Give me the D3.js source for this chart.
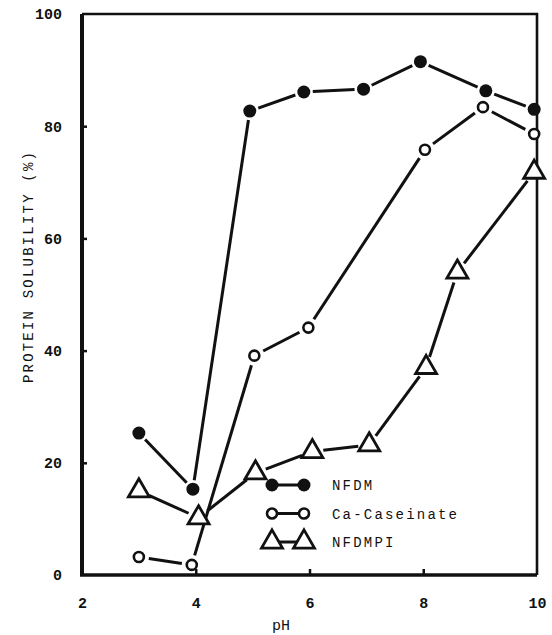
<!DOCTYPE html>
<html>
<head>
<meta charset="utf-8">
<script src="https://cdn.jsdelivr.net/npm/d3@7"></script>
<style>
  body { margin: 0; background: #fff; }
  svg { display: block; }
  .tick text { font-family: "Liberation Mono", monospace; font-weight: bold; font-size: 15px; fill: #111; }
  .lbl { font-family: "Liberation Mono", monospace; fill: #111; }
</style>
</head>
<body>
<svg id="chart" width="552" height="635"></svg>
<script>
// data
const nfdmPH   = [3.0, 3.95, 4.95, 5.9, 6.95, 7.95, 9.1, 9.95];
const nfdmVal  = [25.3, 15.3, 82.7, 86.1, 86.6, 91.5, 86.3, 83.0];
const casPH    = [3.0, 3.93, 5.03, 5.98, 8.03, 9.05, 9.95];
const casVal   = [3.2, 1.8, 39.1, 44.1, 75.8, 83.4, 78.6];
const piPH     = [3.0, 4.05, 5.05, 6.05, 7.05, 8.05, 8.6, 9.95];
const piVal    = [15.0, 10.2, 18.2, 22.0, 23.2, 37.0, 54.0, 71.8];
const xTicks   = [2, 4, 6, 8, 10];
const yTicks   = [0, 20, 40, 60, 80, 100];
const legendNames = ["NFDM", "Ca-Caseinate", "NFDMPI"];

const svg = d3.select("#chart");
const margin = {left: 82, right: 15, top: 14, bottom: 60};
const width = 552, height = 635;

const x = d3.scaleLinear().domain([2, 10]).range([margin.left, width - margin.right]);
const y = d3.scaleLinear().domain([0, 100]).range([height - margin.bottom - 0, margin.top]);

const ink = "#111";

// frame
svg.append("path")
   .attr("d", `M${x(2)},${y(0)}V${y(100)}`)
   .attr("stroke", ink).attr("stroke-width", 4).attr("fill", "none");
svg.append("path")
   .attr("d", `M${x(2)},${y(100)}H${x(10)}V${y(0)}`)
   .attr("stroke", ink).attr("stroke-width", 2.6).attr("fill", "none");
svg.append("path")
   .attr("d", `M${x(2) - 2},${y(0)}H${x(10)}`)
   .attr("stroke", ink).attr("stroke-width", 3.5).attr("fill", "none");

// axes
const yAxis = svg.append("g")
   .attr("transform", `translate(${x(2)},0)`)
   .call(d3.axisLeft(y).tickValues(yTicks).tickSize(-5).tickPadding(20));
yAxis.select(".domain").remove();
yAxis.selectAll(".tick line").attr("stroke", ink).attr("stroke-width", 2.5)
     .filter(d => d === 0 || d === 100).remove();

const xAxis = svg.append("g")
   .attr("transform", `translate(0,${y(0)})`)
   .call(d3.axisBottom(x).tickValues(xTicks).tickSize(-6).tickPadding(22));
xAxis.select(".domain").remove();
xAxis.selectAll(".tick line").attr("stroke", ink).attr("stroke-width", 2.5)
     .filter(d => d === 2 || d === 10).remove();

// axis titles
svg.append("text").attr("class", "lbl")
   .attr("x", x(5.5)).attr("y", 630)
   .attr("text-anchor", "middle").attr("font-size", 15)
   .text("pH");

svg.append("text").attr("class", "lbl")
   .attr("transform", `translate(33,${y(55)}) rotate(-90)`)
   .attr("text-anchor", "middle").attr("font-size", 14)
   .attr("letter-spacing", 2.2)
   .text("PROTEIN SOLUBILITY (%)");

// lines broken short of the markers
function brokenLine(pts, gap) {
  const g = svg.append("g");
  for (let i = 0; i < pts.length - 1; i++) {
    const [x1, y1] = pts[i], [x2, y2] = pts[i + 1];
    const len = Math.hypot(x2 - x1, y2 - y1);
    if (len < gap * 2) continue;
    const ux = (x2 - x1) / len, uy = (y2 - y1) / len;
    g.append("line")
     .attr("x1", x1 + ux * gap).attr("y1", y1 + uy * gap)
     .attr("x2", x2 - ux * gap).attr("y2", y2 - uy * gap)
     .attr("stroke", ink).attr("stroke-width", 3);
  }
}

const tri = d3.symbol().type(d3.symbolTriangle).size(190);

function drawMarker(g, kind, cx, cy) {
  if (kind === 0) {
    g.append("circle").attr("cx", cx).attr("cy", cy).attr("r", 6.5).attr("fill", ink);
  } else if (kind === 1) {
    g.append("circle").attr("cx", cx).attr("cy", cy).attr("r", 5).attr("fill", "#fff")
     .attr("stroke", ink).attr("stroke-width", 2.6);
  } else {
    g.append("path").attr("d", tri).attr("transform", `translate(${cx},${cy})`)
     .attr("fill", "#fff").attr("stroke", ink).attr("stroke-width", 2.8)
     .attr("stroke-linejoin", "miter");
  }
}

const series = [
  {ph: nfdmPH, val: nfdmVal, kind: 0, gap: 9},
  {ph: casPH, val: casVal, kind: 1, gap: 10},
  {ph: piPH, val: piVal, kind: 2, gap: 11}
];

series.forEach(s => {
  const pts = s.ph.map((p, i) => [x(p), y(s.val[i])]);
  brokenLine(pts, s.gap);
  const g = svg.append("g");
  pts.forEach(([cx, cy]) => drawMarker(g, s.kind, cx, cy));
});

// legend
const legend = svg.append("g").attr("transform", "translate(272,485)");
legendNames.forEach((name, i) => {
  const row = legend.append("g").attr("transform", `translate(0,${i * 28.5})`);
  row.append("line").attr("x1", 0).attr("x2", 32).attr("y1", 0).attr("y2", 0)
     .attr("stroke", ink).attr("stroke-width", 3);
  drawMarker(row, i, 0, 0);
  drawMarker(row, i, 32, 0);
  row.append("text").attr("class", "lbl")
     .attr("x", 60).attr("y", 5)
     .attr("font-size", 14).attr("letter-spacing", 2.2)
     .text(name);
});
</script>
</body>
</html>
